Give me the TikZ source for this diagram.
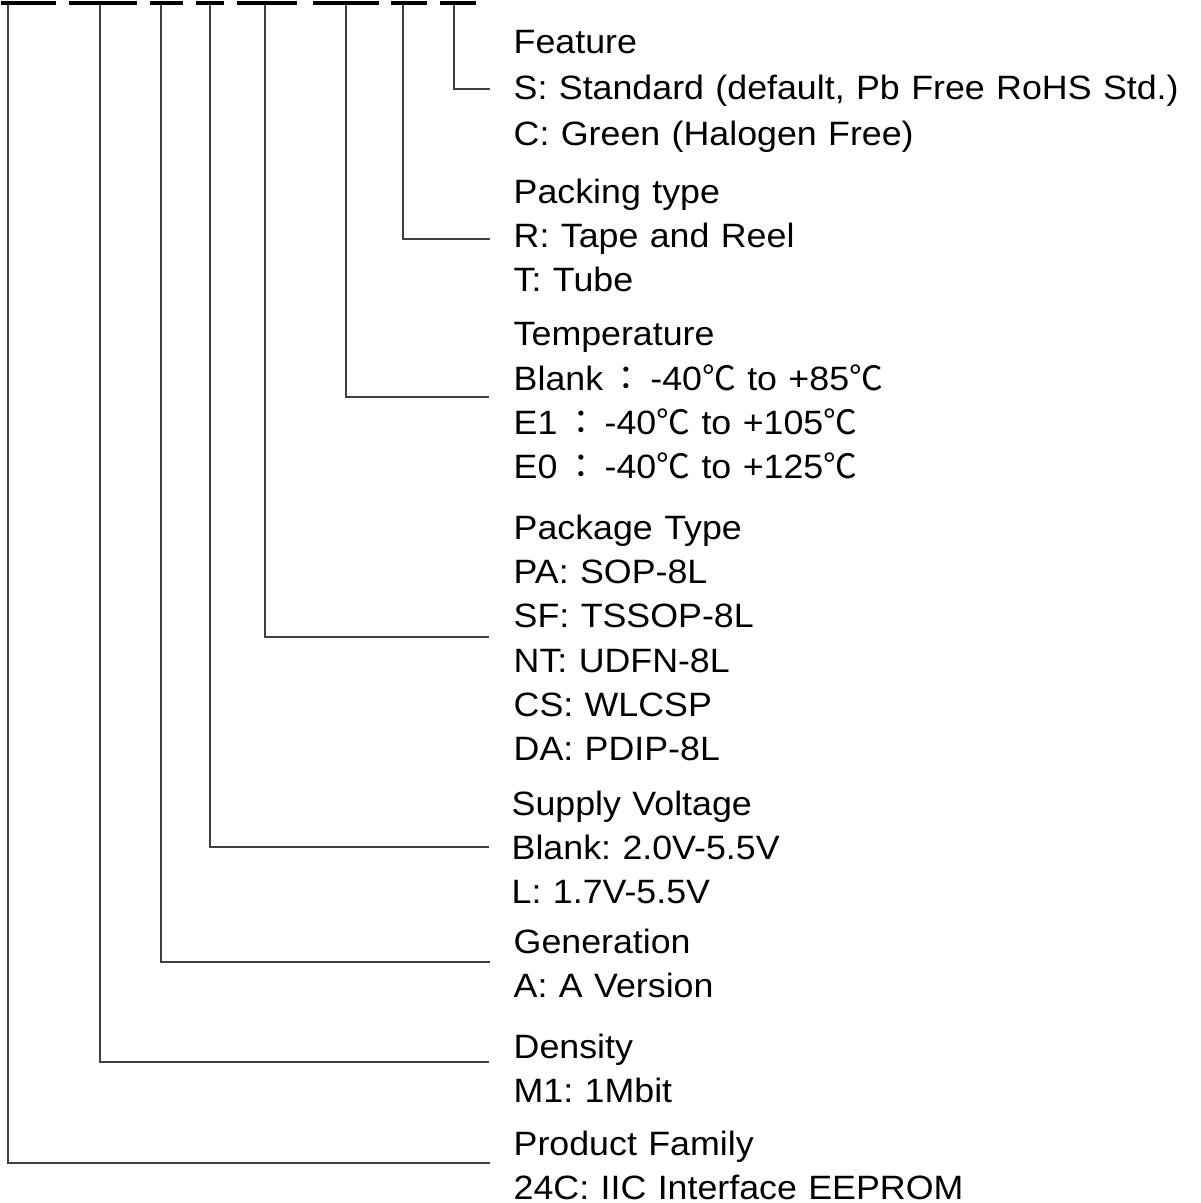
\documentclass[tikz,border=0pt]{standalone}
\usepackage{fontspec}
\setmainfont{Liberation Sans}[FakeStretch=1.06, WordSpace=1.15]
\newfontfamily\cjk{Noto Sans CJK TC}
\usetikzlibrary{positioning,calc}

\newcommand{\cc}{{\cjk ℃}}
\newcommand{\fc}{\kern0.2em{\cjk ：}\kern0.2em}
\frenchspacing

\begin{document}
\begin{tikzpicture}[
    seg/.style={fill=black, inner sep=0pt, minimum height=0.04cm, anchor=north west},
    lead/.style={line width=0.4pt, black!75},
    desc/.style={anchor=north west, inner sep=0pt, align=left, font=\fontsize{9.6pt}{#1}\selectfont},
    desc/.default=12.6pt
]
  \useasboundingbox (0,0) rectangle (12,-12.03);

  % part-number segments
  \node[seg, minimum width=0.55cm] (b1) at (0.00,0) {};
  \node[seg, minimum width=0.68cm] (b2) at (0.68,0) {};
  \node[seg, minimum width=0.33cm] (b3) at (1.49,0) {};
  \node[seg, minimum width=0.28cm] (b4) at (1.95,0) {};
  \node[seg, minimum width=0.60cm] (b5) at (2.36,0) {};
  \node[seg, minimum width=0.66cm] (b6) at (3.12,0) {};
  \node[seg, minimum width=0.36cm] (b7) at (3.90,0) {};
  \node[seg, minimum width=0.36cm] (b8) at (4.39,0) {};

  % descriptions
  \node[desc=13pt] (fea) at (5.13,-0.30) {Feature\\S: Standard (default, Pb Free RoHS Std.)\\C: Green (Halogen Free)};
  \node[desc] (pck) at (5.13,-1.78) {Packing type\\R: Tape and Reel\\T: Tube};
  \node[desc] (tmp) at (5.13,-3.22) {Temperature\\Blank\fc-40\cc{} to +85\cc\\E1\fc-40\cc{} to +105\cc\\E0\fc-40\cc{} to +125\cc};
  \node[desc] (pkg) at (5.13,-5.14) {Package Type\\PA: SOP-8L\\SF: TSSOP-8L\\NT: UDFN-8L\\CS: WLCSP\\DA: PDIP-8L};
  \node[desc] (sup) at (5.11,-7.90) {Supply Voltage\\Blank: 2.0V-5.5V\\L: 1.7V-5.5V};
  \node[desc] (gen) at (5.13,-9.28) {Generation\\A: A Version};
  \node[desc] (den) at (5.13,-10.33) {Density\\M1: 1Mbit};
  \node[desc] (fam) at (5.13,-11.30) {Product Family\\24C: IIC Interface EEPROM};

  % ends of the leaders
  \coordinate (tfea) at (4.90,-0.89);
  \coordinate (tpck) at (4.90,-2.39);
  \coordinate (ttmp) at (4.89,-3.97);
  \coordinate (tpkg) at (4.89,-6.37);
  \coordinate (tsup) at (4.89,-8.47);
  \coordinate (tgen) at (4.90,-9.62);
  \coordinate (tden) at (4.89,-10.62);
  \coordinate (tfam) at (4.90,-11.63);

  \foreach \b/\x/\tap in {b1/0.08/tfam, b2/1.00/tden, b3/1.61/tgen, b4/2.10/tsup,
                          b5/2.65/tpkg, b6/3.46/ttmp, b7/4.03/tpck, b8/4.54/tfea}
    \draw[lead] (\x,0 |- \b.south) |- (\tap);
\end{tikzpicture}
\end{document}
